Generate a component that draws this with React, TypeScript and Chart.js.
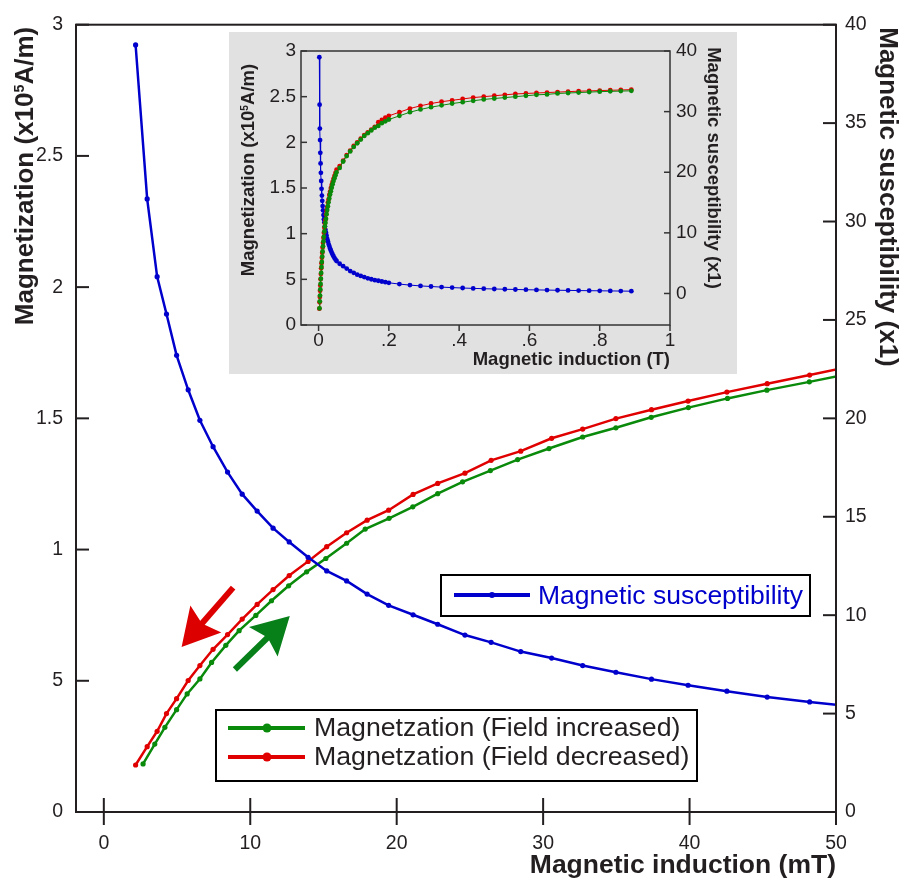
import React, { useEffect, useRef } from "react";
import { Chart, registerables } from "chart.js";

Chart.register(...registerables);

// ---------------- Main chart data (magnetic induction in mT) ----------------
const B_MT = [2.17, 2.96, 3.64, 4.28, 4.97, 5.76, 6.56, 7.46, 8.45, 9.45, 10.47, 11.56, 12.66, 13.95, 15.22, 16.58, 17.98, 19.45, 21.12, 22.8, 24.66, 26.45, 28.47, 30.58, 32.7, 34.97, 37.4, 39.9, 42.55, 45.3, 48.2, 51.2];
const SUSC = [38.97, 31.15, 27.2, 25.3, 23.2, 21.45, 19.9, 18.56, 17.27, 16.15, 15.29, 14.42, 13.72, 12.94, 12.25, 11.74, 11.07, 10.5, 10.02, 9.54, 8.99, 8.62, 8.15, 7.82, 7.44, 7.1, 6.75, 6.44, 6.14, 5.84, 5.59, 5.36];
const M_DEC = [0.179, 0.249, 0.3075, 0.375, 0.432, 0.501, 0.558, 0.62, 0.676, 0.735, 0.791, 0.8475, 0.901, 0.955, 1.011, 1.064, 1.112, 1.15, 1.21, 1.252, 1.291, 1.34, 1.375, 1.424, 1.459, 1.499, 1.533, 1.566, 1.6, 1.632, 1.665, 1.7];
const B_INC_MT = [2.68, 3.48, 4.17, 4.97, 5.69, 6.56, 7.36, 8.33, 9.24, 10.38, 11.45, 12.62, 13.85, 15.16, 16.58, 17.85, 19.48, 21.1, 22.8, 24.5, 26.4, 28.26, 30.4, 32.7, 34.97, 37.38, 39.92, 42.59, 45.28, 48.18, 51.1];
const M_INC = [0.183, 0.259, 0.3225, 0.39, 0.45, 0.507, 0.57, 0.635, 0.691, 0.749, 0.805, 0.862, 0.915, 0.966, 1.024, 1.078, 1.119, 1.163, 1.213, 1.258, 1.301, 1.343, 1.385, 1.429, 1.464, 1.504, 1.541, 1.576, 1.6075, 1.639, 1.672];

// ---------------- Inset extra data (magnetic induction in T) ----------------
const INSET_B_T = [0.06, 0.07, 0.08, 0.09, 0.1, 0.11, 0.12, 0.13, 0.14, 0.15, 0.16, 0.17, 0.18, 0.19, 0.2, 0.23, 0.26, 0.29, 0.32, 0.35, 0.38, 0.41, 0.44, 0.47, 0.5, 0.53, 0.56, 0.59, 0.62, 0.65, 0.68, 0.71, 0.74, 0.77, 0.8, 0.83, 0.86, 0.89];
const INSET_SUSC = [4.9, 4.5, 4.1, 3.7, 3.4, 3.1, 2.9, 2.7, 2.5, 2.35, 2.2, 2.1, 1.98, 1.87, 1.76, 1.55, 1.38, 1.25, 1.15, 1.05, 0.97, 0.9, 0.84, 0.79, 0.74, 0.7, 0.66, 0.62, 0.59, 0.56, 0.53, 0.51, 0.48, 0.46, 0.44, 0.42, 0.4, 0.38];
const INSET_M_DEC = [1.74, 1.8, 1.86, 1.91, 1.96, 2.0, 2.04, 2.08, 2.11, 2.14, 2.17, 2.22, 2.245, 2.27, 2.29, 2.33, 2.37, 2.4, 2.425, 2.445, 2.46, 2.475, 2.49, 2.5, 2.51, 2.52, 2.53, 2.535, 2.54, 2.545, 2.55, 2.555, 2.56, 2.563, 2.567, 2.57, 2.573, 2.577];
const INSET_M_INC = [1.72, 1.79, 1.85, 1.9, 1.95, 1.99, 2.03, 2.07, 2.1, 2.13, 2.16, 2.18, 2.21, 2.23, 2.25, 2.29, 2.33, 2.36, 2.385, 2.405, 2.425, 2.44, 2.455, 2.47, 2.48, 2.49, 2.5, 2.51, 2.52, 2.525, 2.535, 2.54, 2.545, 2.55, 2.555, 2.558, 2.561, 2.564];

// ---------------- Ticks ----------------
const X_TICKS = [0, 10, 20, 30, 40, 50];
const X_LABELS = ["0", "10", "20", "30", "40", "50"];
const Y_TICKS = [0, 0.5, 1, 1.5, 2, 2.5, 3];
const Y_LABELS = ["0", "5", "1", "1.5", "2", "2.5", "3"];
const Y2_TICKS = [0, 5, 10, 15, 20, 25, 30, 35, 40];
const Y2_LABELS = ["0", "5", "10", "15", "20", "25", "30", "35", "40"];
const INSET_X_TICKS = [0, 0.2, 0.4, 0.6, 0.8, 1];
const INSET_X_LABELS = ["0", ".2", ".4", ".6", ".8", "1"];
const INSET_Y2_TICKS = [0, 10, 20, 30, 40];
const INSET_Y2_LABELS = ["0", "10", "20", "30", "40"];

// ---------------- Texts ----------------
const TITLE_M = ["Magnetization (x10", "5", "A/m)"];
const TITLE_SUSC = "Magnetic susceptibility (x1)";
const TITLE_B_MT = "Magnetic induction (mT)";
const TITLE_B_T = "Magnetic induction (T)";
const LEG_SUSC = "Magnetic susceptibility";
const LEG_INC = "Magnetzation (Field increased)";
const LEG_DEC = "Magnetzation (Field decreased)";

// arrows in data coordinates [x(mT), M]
const ARROW_DEC = [[8.83, 0.855], [5.31, 0.629]];
const ARROW_INC = [[8.95, 0.543], [12.7, 0.747]];

const FONT = '"Liberation Sans", Arial, Helvetica, sans-serif';
const INK = "#231f20";
const BLUE = "#0000cc";
const RED = "#e00000";
const GREEN = "#0a8a0a";
const RED_ARROW = "#dd0000";
const GREEN_ARROW = "#07801a";

type Seg = { t: string; scale?: number; rise?: number };

function drawRich(ctx: CanvasRenderingContext2D, segs: Seg[], size: number, weight: string, color: string, x: number, y: number, rot: number, align: "center" | "right" | "left") {
  ctx.save();
  ctx.translate(x, y);
  ctx.rotate(rot);
  ctx.fillStyle = color;
  ctx.textBaseline = "alphabetic";
  ctx.textAlign = "left";
  const widths = segs.map((s) => {
    ctx.font = `${weight} ${size * (s.scale ?? 1)}px ${FONT}`;
    return ctx.measureText(s.t).width;
  });
  const total = widths.reduce((a, b) => a + b, 0);
  let cx = align === "center" ? -total / 2 : align === "right" ? -total : 0;
  segs.forEach((s, i) => {
    ctx.font = `${weight} ${size * (s.scale ?? 1)}px ${FONT}`;
    ctx.fillText(s.t, cx, -(s.rise ?? 0) * size);
    cx += widths[i];
  });
  ctx.restore();
}

function line(ctx: CanvasRenderingContext2D, x0: number, y0: number, x1: number, y1: number) {
  ctx.beginPath();
  ctx.moveTo(x0, y0);
  ctx.lineTo(x1, y1);
  ctx.stroke();
}

function drawArrow(ctx: CanvasRenderingContext2D, x0: number, y0: number, x1: number, y1: number, color: string) {
  const ang = Math.atan2(y1 - y0, x1 - x0);
  const L = Math.hypot(x1 - x0, y1 - y0);
  const headLen = 37, notch = 31, halfW = 20.5, shaftW = 6;
  ctx.save();
  ctx.translate(x1, y1);
  ctx.rotate(ang);
  ctx.fillStyle = color;
  ctx.fillRect(-L, -shaftW / 2, L - notch + 3, shaftW);
  ctx.beginPath();
  ctx.moveTo(0, 0);
  ctx.lineTo(-headLen, -halfW);
  ctx.lineTo(-notch, 0);
  ctx.lineTo(-headLen, halfW);
  ctx.closePath();
  ctx.fill();
  ctx.restore();
}

const fixedTicks = (values: number[]) => (scale: any) => {
  scale.ticks = values.map((v) => ({ value: v }));
};
const labels = (arr: string[]) => (_v: any, i: number) => arr[i];

function tickFont(size: number) {
  return { family: FONT, size, weight: "normal" as const };
}

const noGrid = { display: false, drawTicks: false, tickLength: 0 };

export default function App() {
  const mainRef = useRef<HTMLCanvasElement | null>(null);
  const insetRef = useRef<HTMLCanvasElement | null>(null);

  useEffect(() => {
    if (!mainRef.current || !insetRef.current) return;

    const mainPlugin = {
      id: "mainDecor",
      afterDraw(chart: any) {
        const { ctx, chartArea: a, scales } = chart;
        ctx.save();
        // frame & ticks
        ctx.strokeStyle = INK;
        ctx.lineWidth = 2;
        ctx.strokeRect(a.left, a.top, a.right - a.left, a.bottom - a.top);
        Y_TICKS.forEach((v) => {
          const y = scales.y.getPixelForValue(v);
          line(ctx, a.left, y, a.left + 13, y);
        });
        Y2_TICKS.forEach((v) => {
          const y = scales.y2.getPixelForValue(v);
          line(ctx, a.right - 13, y, a.right, y);
        });
        X_TICKS.forEach((v) => {
          const x = scales.x.getPixelForValue(v);
          line(ctx, x, a.bottom - 14, x, a.bottom + 13);
        });
        // arrows
        const px = (p: number[]) => [scales.x.getPixelForValue(p[0]), scales.y.getPixelForValue(p[1])];
        const d0 = px(ARROW_DEC[0]), d1 = px(ARROW_DEC[1]);
        drawArrow(ctx, d0[0], d0[1], d1[0], d1[1], RED_ARROW);
        const i0 = px(ARROW_INC[0]), i1 = px(ARROW_INC[1]);
        drawArrow(ctx, i0[0], i0[1], i1[0], i1[1], GREEN_ARROW);

        // titles
        drawRich(ctx, [{ t: TITLE_M[0] }, { t: TITLE_M[1], scale: 0.55, rise: 0.33 }, { t: TITLE_M[2] }], 26, "bold", INK, 33, 176, -Math.PI / 2, "center");
        drawRich(ctx, [{ t: TITLE_SUSC }], 26, "bold", INK, 880, 197, Math.PI / 2, "center");
        drawRich(ctx, [{ t: TITLE_B_MT }], 26.5, "bold", INK, 836, 873, 0, "right");

        // legend 1 (susceptibility)
        ctx.lineWidth = 2;
        ctx.strokeStyle = "#000";
        ctx.fillStyle = "#fff";
        ctx.fillRect(441, 575, 369, 41);
        ctx.strokeRect(441, 575, 369, 41);
        ctx.strokeStyle = BLUE;
        ctx.lineWidth = 4;
        line(ctx, 454, 595, 530, 595);
        ctx.fillStyle = BLUE;
        ctx.beginPath();
        ctx.arc(492, 595, 3, 0, Math.PI * 2);
        ctx.fill();
        ctx.font = `normal 26.5px ${FONT}`;
        ctx.textAlign = "left";
        ctx.textBaseline = "middle";
        ctx.fillText(LEG_SUSC, 538, 597);

        // legend 2 (magnetization)
        ctx.lineWidth = 2;
        ctx.strokeStyle = "#000";
        ctx.fillStyle = "#fff";
        ctx.fillRect(216, 710, 481, 71);
        ctx.strokeRect(216, 710, 481, 71);
        const rows: [string, string, number][] = [[GREEN, LEG_INC, 728], [RED, LEG_DEC, 757]];
        rows.forEach(([c, t, y]) => {
          ctx.strokeStyle = c;
          ctx.lineWidth = 4;
          line(ctx, 228, y, 305, y);
          ctx.fillStyle = c;
          ctx.beginPath();
          ctx.arc(267, y, 4.5, 0, Math.PI * 2);
          ctx.fill();
          ctx.fillStyle = INK;
          ctx.font = `normal 26.7px ${FONT}`;
          ctx.fillText(t, 314, y + 1);
        });
        ctx.restore();
      },
    };

    const mainChart = new Chart(mainRef.current, {
      type: "line",
      data: {
        datasets: [
          {
            label: LEG_SUSC,
            data: B_MT.map((x, i) => ({ x, y: SUSC[i] })),
            yAxisID: "y2",
            borderColor: BLUE,
            backgroundColor: BLUE,
            pointBackgroundColor: BLUE,
            borderWidth: 2.5,
            pointRadius: 2.6,
            pointBorderWidth: 0,
            tension: 0,
            order: 0,
          },
          {
            label: LEG_INC,
            data: B_INC_MT.map((x, i) => ({ x, y: M_INC[i] })),
            yAxisID: "y",
            borderColor: GREEN,
            backgroundColor: GREEN,
            pointBackgroundColor: GREEN,
            borderWidth: 2.5,
            pointRadius: 2.6,
            pointBorderWidth: 0,
            tension: 0,
            order: 1,
          },
          {
            label: LEG_DEC,
            data: B_MT.map((x, i) => ({ x, y: M_DEC[i] })),
            yAxisID: "y",
            borderColor: RED,
            backgroundColor: RED,
            pointBackgroundColor: RED,
            borderWidth: 2.5,
            pointRadius: 2.6,
            pointBorderWidth: 0,
            tension: 0,
            order: 2,
          },
        ],
      },
      options: {
        responsive: false,
        animation: false,
        events: [],
        layout: { padding: { top: 12, left: 0, right: 0, bottom: 0 } },
        plugins: { legend: { display: false }, tooltip: { enabled: false } },
        scales: {
          x: {
            type: "linear",
            min: -1.9,
            max: 50,
            afterBuildTicks: fixedTicks(X_TICKS),
            afterFit: (s: any) => { s.height = 72; },
            grid: noGrid,
            border: { display: false },
            ticks: { autoSkip: false, maxRotation: 0, padding: 20, color: INK, font: tickFont(19.5), callback: labels(X_LABELS) },
          },
          y: {
            type: "linear",
            position: "left",
            min: 0,
            max: 3,
            afterBuildTicks: fixedTicks(Y_TICKS),
            afterFit: (s: any) => { s.width = 76; },
            grid: noGrid,
            border: { display: false },
            ticks: { autoSkip: false, padding: 13, color: INK, font: tickFont(19.5), callback: labels(Y_LABELS) },
          },
          y2: {
            type: "linear",
            position: "right",
            min: 0,
            max: 40,
            afterBuildTicks: fixedTicks(Y2_TICKS),
            afterFit: (s: any) => { s.width = 70; },
            grid: noGrid,
            border: { display: false },
            ticks: { autoSkip: false, padding: 9, color: INK, font: tickFont(19.5), callback: labels(Y2_LABELS) },
          },
        },
      } as any,
      plugins: [mainPlugin],
    });

    const insetPlugin = {
      id: "insetDecor",
      beforeDraw(chart: any) {
        const { ctx, width, height } = chart;
        ctx.save();
        ctx.fillStyle = "#e1e1e1";
        ctx.fillRect(0, 0, width, height);
        ctx.restore();
      },
      afterDraw(chart: any) {
        const { ctx, chartArea: a, scales } = chart;
        ctx.save();
        ctx.strokeStyle = "#333";
        ctx.lineWidth = 1.5;
        ctx.strokeRect(a.left, a.top, a.right - a.left, a.bottom - a.top);
        Y_TICKS.forEach((v) => {
          const y = scales.y.getPixelForValue(v);
          line(ctx, a.left, y, a.left + 6, y);
        });
        INSET_Y2_TICKS.forEach((v) => {
          const y = scales.y2.getPixelForValue(v);
          line(ctx, a.right - 6, y, a.right, y);
        });
        INSET_X_TICKS.forEach((v) => {
          const x = scales.x.getPixelForValue(v);
          line(ctx, x, a.bottom, x, a.bottom + 6);
        });
        drawRich(ctx, [{ t: TITLE_M[0] }, { t: TITLE_M[1], scale: 0.55, rise: 0.33 }, { t: TITLE_M[2] }], 18.5, "bold", INK, 25, 138, -Math.PI / 2, "center");
        drawRich(ctx, [{ t: TITLE_SUSC }], 18.5, "bold", INK, 479, 136, Math.PI / 2, "center");
        drawRich(ctx, [{ t: TITLE_B_T }], 18.5, "bold", INK, 441, 333, 0, "right");
        ctx.restore();
      },
    };

    const insetX = [...B_MT.map((b) => b / 1000), ...INSET_B_T];
    const insetXInc = [...B_INC_MT.map((b) => b / 1000), ...INSET_B_T];
    const insetSusc = [...SUSC, ...INSET_SUSC];
    const insetDec = [...M_DEC, ...INSET_M_DEC];
    const insetInc = [...M_INC, ...INSET_M_INC];

    const insetChart = new Chart(insetRef.current, {
      type: "line",
      data: {
        datasets: [
          {
            label: LEG_INC,
            data: insetXInc.map((x, i) => ({ x, y: insetInc[i] })),
            yAxisID: "y",
            borderColor: GREEN,
            backgroundColor: GREEN,
            pointBackgroundColor: GREEN,
            borderWidth: 1,
            pointRadius: 2.4,
            pointBorderWidth: 0,
            order: 0,
          },
          {
            label: LEG_DEC,
            data: insetX.map((x, i) => ({ x, y: insetDec[i] })),
            yAxisID: "y",
            borderColor: RED,
            backgroundColor: RED,
            pointBackgroundColor: RED,
            borderWidth: 1,
            pointRadius: 2.4,
            pointBorderWidth: 0,
            order: 1,
          },
          {
            label: LEG_SUSC,
            data: insetX.map((x, i) => ({ x, y: insetSusc[i] })),
            yAxisID: "y2",
            borderColor: BLUE,
            backgroundColor: BLUE,
            pointBackgroundColor: BLUE,
            borderWidth: 1,
            pointRadius: 2.4,
            pointBorderWidth: 0,
            order: 2,
          },
        ],
      },
      options: {
        responsive: false,
        animation: false,
        events: [],
        layout: { padding: { top: 19, left: 0, right: 0, bottom: 0 } },
        plugins: { legend: { display: false }, tooltip: { enabled: false } },
        scales: {
          x: {
            type: "linear",
            min: -0.05,
            max: 1,
            afterBuildTicks: fixedTicks(INSET_X_TICKS),
            afterFit: (s: any) => { s.height = 49; },
            grid: noGrid,
            border: { display: false },
            ticks: { autoSkip: false, maxRotation: 0, padding: 4, color: INK, font: tickFont(19), callback: labels(INSET_X_LABELS) },
          },
          y: {
            type: "linear",
            position: "left",
            min: 0,
            max: 3,
            afterBuildTicks: fixedTicks(Y_TICKS),
            afterFit: (s: any) => { s.width = 72; },
            grid: noGrid,
            border: { display: false },
            ticks: { autoSkip: false, padding: 5, color: INK, font: tickFont(19), callback: labels(Y_LABELS) },
          },
          y2: {
            type: "linear",
            position: "right",
            min: -5.2,
            max: 40,
            afterBuildTicks: fixedTicks(INSET_Y2_TICKS),
            afterFit: (s: any) => { s.width = 67; },
            grid: noGrid,
            border: { display: false },
            ticks: { autoSkip: false, padding: 6, color: INK, font: tickFont(19), callback: labels(INSET_Y2_LABELS) },
          },
        },
      } as any,
      plugins: [insetPlugin],
    });

    return () => {
      mainChart.destroy();
      insetChart.destroy();
    };
  }, []);

  return (
    <div style={{ position: "fixed", left: 0, top: 0, width: 906, height: 884, background: "#fff", overflow: "hidden" }}>
      <canvas ref={mainRef} width={906} height={884} style={{ position: "absolute", left: 0, top: 0, width: 906, height: 884, display: "block" }} />
      <canvas ref={insetRef} width={508} height={342} style={{ position: "absolute", left: 229, top: 32, width: 508, height: 342, display: "block" }} />
    </div>
  );
}
